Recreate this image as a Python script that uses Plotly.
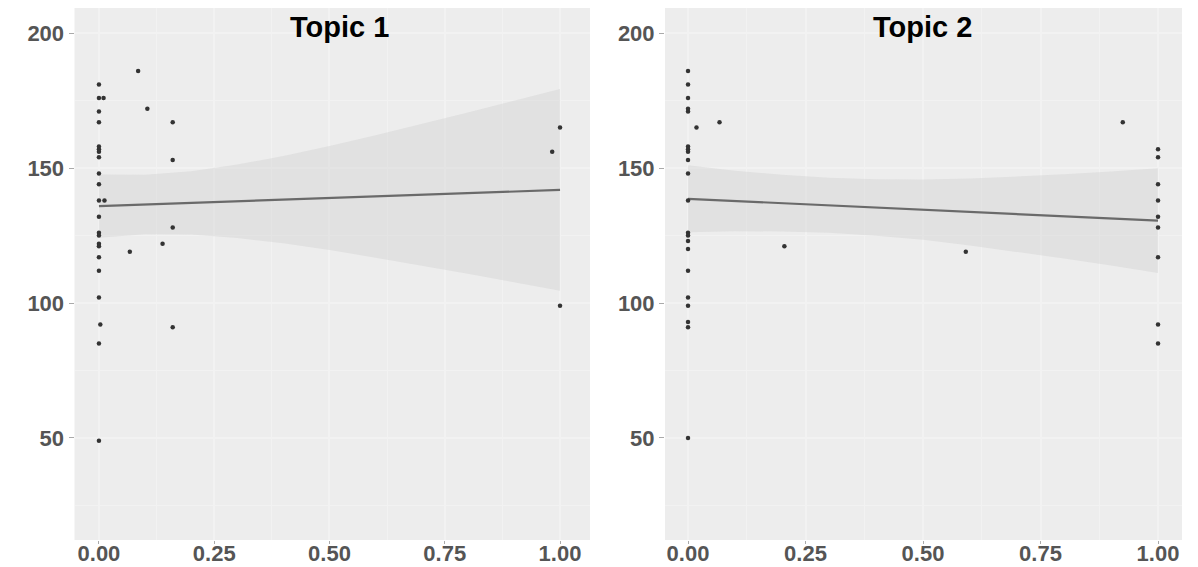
import plotly.graph_objects as go

# ---------------- data ----------------
# Topic 1 scatter
t1_x = [0, 0, 0.01, 0, 0, 0, 0, 0, 0, 0, 0, 0.012, 0, 0, 0, 0, 0, 0, 0, 0, 0.003, 0, 0, 0,
        0.085, 0.105, 0.16, 0.16, 0.16, 0.138, 0.067, 0.16, 1.0, 0.983, 1.0]
t1_y = [181, 176, 176, 171, 167, 158, 157, 156, 154, 148, 144, 138, 138, 132, 126, 125, 122, 121, 117, 112, 92, 102, 85, 49,
        186, 172, 167, 153, 128, 122, 119, 91, 165, 156, 99]

# Topic 1 linear fit and confidence band
t1_fit_x = [0, 0.1, 0.2, 0.3, 0.4, 0.5, 0.6, 0.7, 0.8, 0.9, 1.0]
t1_fit_y = [135.9, 136.5, 137.1, 137.7, 138.3, 138.9, 139.5, 140.1, 140.7, 141.3, 141.9]
t1_lo = [124.2, 125.5, 125.4, 124.1, 122.1, 119.6, 116.8, 113.9, 110.8, 107.7, 104.5]
t1_hi = [147.6, 147.5, 148.8, 151.3, 154.5, 158.2, 162.2, 166.3, 170.6, 174.9, 179.3]

# Topic 2 scatter
t2_x = [0] * 21 + [0.018, 0.067, 0.925, 0.205, 0.591] + [1.0] * 9
t2_y = [186, 181, 176, 172, 171, 158, 157, 156, 153, 148, 138, 126, 125, 123, 120, 112, 102, 99, 93, 91, 50,
        165, 167, 167, 121, 119,
        157, 154, 144, 138, 132, 128, 117, 92, 85]

# Topic 2 linear fit and confidence band
t2_fit_x = [0, 0.1, 0.2, 0.3, 0.4, 0.5, 0.6, 0.7, 0.8, 0.9, 1.0]
t2_fit_y = [138.6, 137.8, 137.0, 136.2, 135.4, 134.6, 133.7, 132.9, 132.1, 131.3, 130.5]
t2_lo = [126.2, 126.6, 126.5, 126.0, 124.9, 123.4, 121.3, 119.0, 116.5, 113.9, 111.1]
t2_hi = [151.0, 149.0, 147.5, 146.4, 145.9, 145.8, 146.1, 146.8, 147.7, 148.7, 149.9]

x_ticks = [0, 0.25, 0.5, 0.75, 1.0]
x_tick_labels = ["0.00", "0.25", "0.50", "0.75", "1.00"]
y_ticks = [50, 100, 150, 200]
titles = ["Topic 1", "Topic 2"]

# ---------------- styling ----------------
W, H = 1198, 567
OFF = 8  # page body margin offset
PANEL_BG = "#EDEDED"
GRID = "#F2F2F2"
BAND = "rgba(200,200,200,0.32)"
LINE = "#6A6A6A"
PT = "#333333"
TICKFONT = dict(family="Liberation Sans, Arial, sans-serif", size=22, color="#555555", weight="bold")

def px(xp):
    return (xp - OFF) / W

def py(yp):
    return 1 - (yp - OFF) / H

fig = go.Figure()

def add_panel(xs, ys, fx, fy, lo, hi, xa, ya):
    fig.add_trace(go.Scatter(x=fx, y=lo, mode="lines", line=dict(width=0, color=BAND),
                             xaxis=xa, yaxis=ya, showlegend=False, hoverinfo="skip"))
    fig.add_trace(go.Scatter(x=fx, y=hi, mode="lines", line=dict(width=0, color=BAND),
                             fill="tonexty", fillcolor=BAND,
                             xaxis=xa, yaxis=ya, showlegend=False, hoverinfo="skip"))
    fig.add_trace(go.Scatter(x=fx, y=fy, mode="lines", line=dict(width=2.2, color=LINE),
                             xaxis=xa, yaxis=ya, showlegend=False))
    fig.add_trace(go.Scatter(x=xs, y=ys, mode="markers",
                             marker=dict(size=4.5, color=PT, line=dict(width=0)),
                             xaxis=xa, yaxis=ya, showlegend=False))

add_panel(t1_x, t1_y, t1_fit_x, t1_fit_y, t1_lo, t1_hi, "x", "y")
add_panel(t2_x, t2_y, t2_fit_x, t2_fit_y, t2_lo, t2_hi, "x2", "y2")

ydom = [py(540), py(8)]
yrange = [12.2, 209.3]

def xaxis(dom, rng, anchor):
    return dict(domain=dom, range=rng, anchor=anchor, tickvals=x_ticks, ticktext=x_tick_labels,
                showgrid=True, gridcolor=GRID, gridwidth=1.5, zeroline=False,
                minor=dict(tickvals=[0.125, 0.375, 0.625, 0.875], showgrid=True, gridcolor=GRID, gridwidth=0.8),
                ticks="outside", ticklen=3, tickcolor="#AAAAAA", tickwidth=1,
                ticklabelstandoff=-9,
                tickfont=TICKFONT, showline=False, automargin=False, fixedrange=True)

def yaxis(dom, anchor):
    return dict(domain=dom, range=yrange, anchor=anchor, tickvals=y_ticks,
                showgrid=True, gridcolor=GRID, gridwidth=1.5, zeroline=False,
                minor=dict(tickvals=[25, 75, 125, 175], showgrid=True, gridcolor=GRID, gridwidth=0.8),
                ticks="outside", ticklen=5, tickcolor="#AAAAAA", tickwidth=1,
                tickfont=TICKFONT, showline=False, automargin=False, fixedrange=True)

fig.update_layout(
    width=W, height=H,
    margin=dict(l=0, r=0, t=0, b=0),
    paper_bgcolor="white",
    plot_bgcolor=PANEL_BG,
    xaxis=xaxis([px(74.5), px(590)], [-0.053, 1.065], "y"),
    yaxis=yaxis(ydom, "x"),
    xaxis2=xaxis([px(665), px(1182)], [-0.049, 1.051], "y2"),
    yaxis2=yaxis(ydom, "x2"),
    annotations=[
        dict(text="<b>" + titles[0] + "</b>", x=px(339), y=py(27), xref="paper", yref="paper",
             showarrow=False, xanchor="center", yanchor="middle",
             font=dict(family="Liberation Sans, Arial, sans-serif", size=29, color="black")),
        dict(text="<b>" + titles[1] + "</b>", x=px(923), y=py(27), xref="paper", yref="paper",
             showarrow=False, xanchor="center", yanchor="middle",
             font=dict(family="Liberation Sans, Arial, sans-serif", size=29, color="black")),
    ],
)

fig.write_html("out.html")
